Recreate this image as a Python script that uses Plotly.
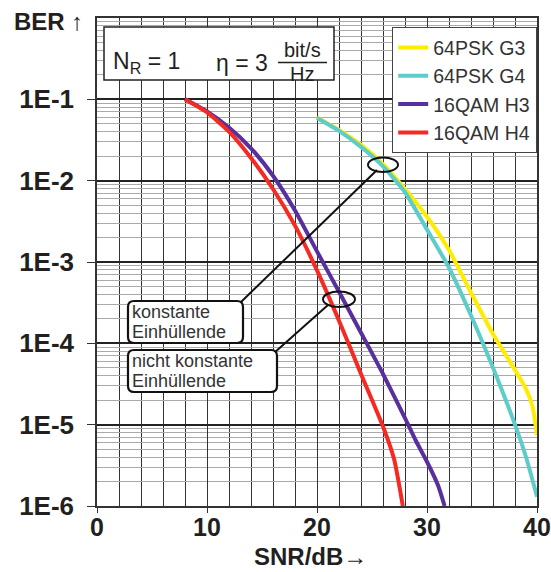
import plotly.graph_objects as go

# ---------------- data ----------------
snr_g3 = [20, 22, 24, 26, 28, 30, 32, 34, 36, 38, 39, 39.6, 40]
ber_g3 = [6.0e-2, 4.2e-2, 2.75e-2, 1.6e-2, 7.9e-3, 3.6e-3, 1.4e-3, 4.2e-4, 1.3e-4, 4.7e-5, 2.75e-5, 1.66e-5, 7.4e-6]

snr_g4 = [20, 22, 24, 26, 28, 30, 32, 34, 36, 38, 39, 40]
ber_g4 = [5.9e-2, 4.1e-2, 2.6e-2, 1.5e-2, 7.2e-3, 2.5e-3, 8.5e-4, 2.2e-4, 5.0e-5, 1.0e-5, 4.0e-6, 1.3e-6]

snr_h3 = [8, 10, 12, 14, 16, 18, 20, 22, 24, 26, 28, 29, 30, 31, 31.6]
ber_h3 = [1.0e-1, 7.1e-2, 4.5e-2, 2.5e-2, 1.15e-2, 4.3e-3, 1.35e-3, 4.3e-4, 1.35e-4, 4.2e-5, 1.2e-5, 6.3e-6, 3.5e-6, 1.8e-6, 1.0e-6]

snr_h4 = [8, 10, 12, 14, 16, 18, 20, 22, 24, 26, 27, 27.8]
ber_h4 = [1.0e-1, 6.9e-2, 4.0e-2, 1.9e-2, 7.9e-3, 2.8e-3, 7.9e-4, 1.9e-4, 4.2e-5, 9.5e-6, 3.8e-6, 1.0e-6]

series_names = ["64PSK G3", "64PSK G4", "16QAM H3", "16QAM H4"]
series_colors = ["#ffec00", "#5ecdc9", "#58309e", "#f52a22"]

x_ticks = [0, 10, 20, 30, 40]
y_ticks = [1e-1, 1e-2, 1e-3, 1e-4, 1e-5, 1e-6]
y_ticktext = ["1E-1", "1E-2", "1E-3", "1E-4", "1E-5", "1E-6"]

# ---------------- layout geometry ----------------
W, H = 551, 572
ML, MR, MT, MB = 97, 14, 18, 66
PW, PH = W - ML - MR, H - MT - MB
FONT = "Liberation Sans, Arial, sans-serif"
TXT = "#231f20"


def px(x):
    return (x - ML) / PW


def py(y):
    return (H - MB - y) / PH


fig = go.Figure()
for xs, ys, name, col in zip([snr_g3, snr_g4, snr_h3, snr_h4],
                             [ber_g3, ber_g4, ber_h3, ber_h4],
                             series_names, series_colors):
    fig.add_trace(go.Scatter(x=xs, y=ys, mode="lines", name=name,
                             line=dict(color=col, width=4, shape="spline", smoothing=0.6)))

minor_y = [k * 10.0 ** e for e in range(-6, 0) for k in range(2, 10)]

fig.update_layout(
    width=W, height=H,
    margin=dict(l=ML, r=MR, t=MT, b=MB, autoexpand=False),
    paper_bgcolor="white", plot_bgcolor="white",
    font=dict(family=FONT, color=TXT),
    showlegend=True,
    legend=dict(x=1, xanchor="right", y=py(27), yanchor="top",
                bgcolor="white", bordercolor="#444444", borderwidth=1.2,
                font=dict(family=FONT, size=19.5, color="#333333"),
                itemwidth=30, tracegroupgap=0),
    xaxis=dict(range=[0, 40], tickvals=x_ticks, ticktext=[str(v) for v in x_ticks],
               automargin=False, ticklabeloverflow="allow",
               showgrid=True, gridcolor="#333333", gridwidth=1.3,
               minor=dict(dtick=2, showgrid=True, gridcolor="#333333", gridwidth=1.3),
               ticks="outside", ticklen=5, tickcolor="#333333",
               ticklabelstandoff=-7,
               showline=True, linecolor="#333333", linewidth=1.5, mirror=True,
               zeroline=False,
               tickfont=dict(family=FONT, size=25, color=TXT, weight="bold")),
    yaxis=dict(type="log", range=[-6, 0], tickvals=y_ticks, ticktext=y_ticktext,
               automargin=False, ticklabeloverflow="allow",
               showgrid=True, gridcolor="#222222", gridwidth=1.5,
               minor=dict(tickvals=minor_y, showgrid=True, gridcolor="#aaaaaa", gridwidth=1.2),
               ticks="outside", ticklen=8, tickcolor="#333333",
               ticklabelstandoff=8,
               showline=True, linecolor="#333333", linewidth=1.5, mirror=True,
               zeroline=False,
               tickfont=dict(family=FONT, size=26, color=TXT, weight="bold")),
)

shapes = []
annotations = []

# N_R / eta box
shapes.append(dict(type="rect", xref="paper", yref="paper",
                   x0=px(104), x1=px(334), y0=py(80), y1=py(27),
                   line=dict(color="#222222", width=1.5), fillcolor="white"))
annotations.append(dict(xref="paper", yref="paper", x=px(111), y=py(63), xanchor="left", yanchor="middle",
                        text="N<sub>R</sub> = 1", showarrow=False,
                        font=dict(family=FONT, size=23, color=TXT)))
annotations.append(dict(xref="paper", yref="paper", x=px(214), y=py(63), xanchor="left", yanchor="middle",
                        text="η = 3", showarrow=False,
                        font=dict(family=FONT, size=23, color=TXT)))
annotations.append(dict(xref="paper", yref="paper", x=px(302), y=py(50), xanchor="center", yanchor="middle",
                        text="bit/s", showarrow=False,
                        font=dict(family=FONT, size=20, color=TXT)))
annotations.append(dict(xref="paper", yref="paper", x=px(302), y=py(74), xanchor="center", yanchor="middle",
                        text="Hz", showarrow=False,
                        font=dict(family=FONT, size=20, color=TXT)))
shapes.append(dict(type="line", xref="paper", yref="paper",
                   x0=px(278), x1=px(327), y0=py(62.5), y1=py(62.5),
                   line=dict(color=TXT, width=1.5)))


def rounded(x0, y0, x1, y1, r=6):
    ax, ay = r / PW, r / PH
    X0, X1, Y0, Y1 = px(x0), px(x1), py(y1), py(y0)
    return (f"M{X0+ax},{Y0} L{X1-ax},{Y0} Q{X1},{Y0} {X1},{Y0+ay} "
            f"L{X1},{Y1-ay} Q{X1},{Y1} {X1-ax},{Y1} L{X0+ax},{Y1} "
            f"Q{X0},{Y1} {X0},{Y1-ay} L{X0},{Y0+ay} Q{X0},{Y0} {X0+ax},{Y0} Z")


# connector lines (below the boxes)
shapes.append(dict(type="line", xref="paper", yref="paper",
                   x0=px(240), y0=py(303), x1=px(377), y1=py(170),
                   line=dict(color="#111111", width=2)))
shapes.append(dict(type="line", xref="paper", yref="paper",
                   x0=px(274), y0=py(353), x1=px(328), y1=py(305),
                   line=dict(color="#111111", width=2)))
# ellipses
shapes.append(dict(type="circle", xref="paper", yref="paper",
                   x0=px(368), x1=px(398), y0=py(172), y1=py(157.5),
                   line=dict(color="#111111", width=2)))
shapes.append(dict(type="circle", xref="paper", yref="paper",
                   x0=px(323), x1=px(355), y0=py(307), y1=py(291.5),
                   line=dict(color="#111111", width=2)))
# rounded boxes
shapes.append(dict(type="path", xref="paper", yref="paper", path=rounded(128, 301, 243, 343),
                   line=dict(color="#111111", width=2.2), fillcolor="white"))
shapes.append(dict(type="path", xref="paper", yref="paper", path=rounded(128, 350, 277, 392),
                   line=dict(color="#111111", width=2.2), fillcolor="white"))

for txt, ycen in [("konstante", 311.5), ("Einhüllende", 332), ("nicht konstante", 360.5), ("Einhüllende", 381)]:
    annotations.append(dict(xref="paper", yref="paper", x=px(131), y=py(ycen), xanchor="left",
                            yanchor="middle", text=txt, showarrow=False, borderpad=0,
                            font=dict(family=FONT, size=18, color="#333333")))

# axis titles
annotations.append(dict(xref="paper", yref="paper", x=px(12), y=py(21), xanchor="left", yanchor="middle",
                        text="<b>BER ↑</b>", showarrow=False,
                        font=dict(family=FONT, size=24, color=TXT)))
annotations.append(dict(xref="paper", yref="paper", x=px(310), y=py(556), xanchor="center", yanchor="middle",
                        text="<b>SNR/dB→</b>", showarrow=False, borderpad=0,
                        font=dict(family=FONT, size=24, color=TXT)))

fig.update_layout(shapes=shapes, annotations=annotations)
fig.write_html("out.html")
